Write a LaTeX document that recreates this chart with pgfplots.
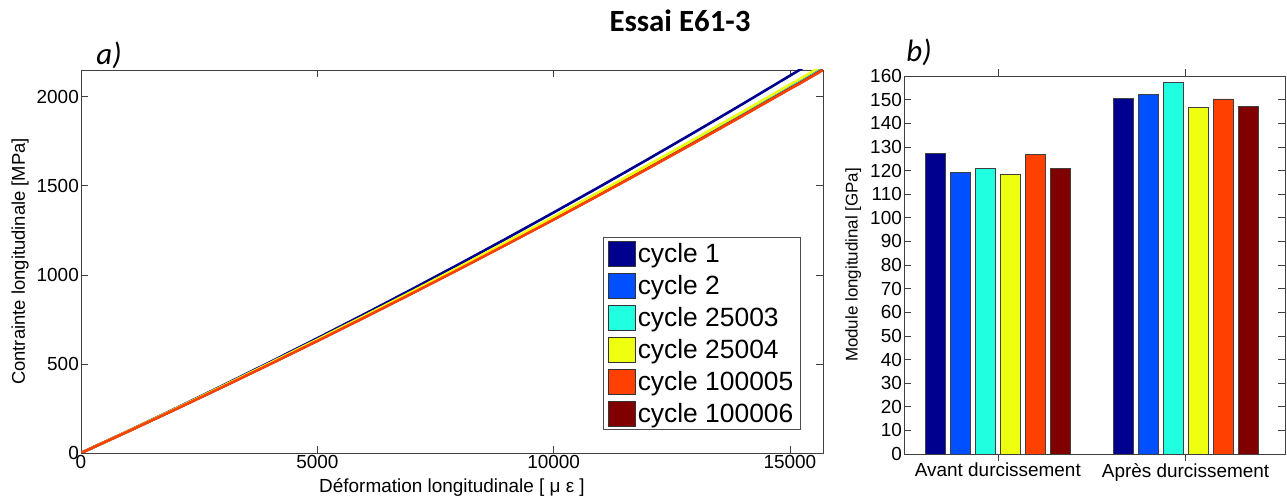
\documentclass[border=0pt]{standalone}
\usepackage{fontspec}
\setmainfont{Liberation Sans}
\newfontfamily\carlito{Carlito}
\usepackage{pgfplots}
\usepackage{pgfplotstable}
\pgfplotsset{compat=1.18}

\definecolor{c1}{RGB}{0,0,143}
\definecolor{c2}{RGB}{0,80,255}
\definecolor{c3}{RGB}{32,255,223}
\definecolor{c4}{RGB}{239,255,16}
\definecolor{c5}{RGB}{255,64,0}
\definecolor{c6}{RGB}{128,0,0}

\pgfplotstableread{
x      c1      c2      c3      c4      c5      c6
0      0       0       0       0       0       0
1000   123.8   122.6   122.0   123.1   121.6   121.8
2000   250.2   247.4   246.1   248.3   245.4   245.7
3000   379.0   374.2   372.3   375.7   371.2   371.6
4000   510.2   503.1   500.6   505.1   499.1   499.6
5000   644.0   634.1   631.0   636.7   629.1   629.7
6000   780.2   767.2   763.4   770.2   761.1   761.9
7000   919.0   902.5   898.0   906.0   895.3   896.2
8000   1060.2  1039.9  1034.7  1044.0  1031.6  1032.6
9000   1203.8  1179.3  1173.4  1184.0  1169.9  1171.1
10000  1350.0  1320.5  1313.9  1325.7  1310.0  1311.3
11000  1498.6  1464.4  1457.2  1470.2  1452.8  1454.3
12000  1649.8  1610.2  1602.2  1616.6  1597.4  1599.0
13000  1803.4  1758.1  1749.3  1765.0  1744.1  1745.8
14000  1959.4  1908.0  1898.5  1915.5  1892.8  1894.7
15000  2118.0  2060.1  2049.8  2068.2  2043.7  2045.7
15200  2150.0  2089.5  2079.2  2097.8  2072.9  2075.0
15700  2236.0  2167.2  2156.5  2175.8  2150.0  2152.2
}\curves

\pgfplotsset{
  mat/.style={
    scale only axis,
    axis line style={black!75, line width=0.8bp},
    tick style={black!75, line width=0.6bp},
    tick align=inside,
    major tick length=7bp,
    tick label style={font=\fontsize{19}{22}\selectfont, inner sep=2bp},
    /pgf/number format/assume math mode=true,
    /pgf/number format/1000 sep={},
    scaled ticks=false,
  }
}

\begin{document}
\begin{tikzpicture}
\useasboundingbox (0,0) rectangle (1287bp,499bp);

% ---------- a) ----------
\begin{axis}[mat,
  at={(81bp,46bp)}, anchor=south west,
  width=742bp, height=383bp,
  xmin=0, xmax=15700, ymin=0, ymax=2150,
  xtick={0,5000,10000,15000},
  ytick={0,500,1000,1500,2000},
  xlabel={Déformation longitudinale [ μ ε ]},
  ylabel={Contrainte longitudinale [MPa]},
  every axis x label/.style={at={(axis description cs:0.5,-0.089)}, anchor=center, font=\fontsize{19}{22}\selectfont},
  every axis y label/.style={at={(axis description cs:-0.082,0.5)}, rotate=90, anchor=center, font=\fontsize{18.5}{22}\selectfont},
  legend cell align=left,
  legend image code/.code={\draw[#1, draw=black!80, line width=0.6bp] (0bp,-12.5bp) rectangle (27bp,12.5bp);},
  legend style={at={(rel axis cs:0.97,0.06)}, anchor=south east,
    draw=black!70, line width=0.8bp,
    font=\fontsize{26.5}{30}\selectfont,
    inner xsep=5bp, inner ysep=3bp, row sep=6.5bp,
    nodes={inner xsep=2bp, inner ysep=2bp}},
]
\addplot[c1, line width=2.6bp, forget plot] table[x=x, y=c1] {\curves};
\addplot[c2, line width=2.6bp, forget plot] table[x=x, y=c2] {\curves};
\addplot[c3, line width=2.6bp, forget plot] table[x=x, y=c3] {\curves};
\addplot[c6, line width=2.6bp, forget plot] table[x=x, y=c6] {\curves};
\addplot[c4, line width=2.6bp, forget plot] table[x=x, y=c4] {\curves};
\addplot[c5, line width=2.6bp, forget plot] table[x=x, y=c5] {\curves};
\addlegendimage{fill=c1}\addlegendentry{cycle 1}
\addlegendimage{fill=c2}\addlegendentry{cycle 2}
\addlegendimage{fill=c3}\addlegendentry{cycle 25003}
\addlegendimage{fill=c4}\addlegendentry{cycle 25004}
\addlegendimage{fill=c5}\addlegendentry{cycle 100005}
\addlegendimage{fill=c6}\addlegendentry{cycle 100006}
\end{axis}

% ---------- b) ----------
\begin{axis}[mat,
  at={(904bp,45bp)}, anchor=south west,
  width=381bp, height=378bp,
  xmin=0.5, xmax=2.53, ymin=0, ymax=160,
  ybar=5bp, bar width=20bp,
  xtick={1,2},
  xticklabels={Avant durcissement, Après durcissement},
  ytick={0,10,...,160},
  ylabel={Module longitudinal [GPa]},
  every axis y label/.style={at={(axis description cs:-0.133,0.5)}, rotate=90, anchor=center, font=\fontsize{17}{20}\selectfont},
]
\addplot[fill=c1, draw=black!75, line width=0.6bp] coordinates {(1,127.2) (2,150.4)};
\addplot[fill=c2, draw=black!75, line width=0.6bp] coordinates {(1,119.2) (2,152.3)};
\addplot[fill=c3, draw=black!75, line width=0.6bp] coordinates {(1,121.0) (2,157.3)};
\addplot[fill=c4, draw=black!75, line width=0.6bp] coordinates {(1,118.4) (2,146.6)};
\addplot[fill=c5, draw=black!75, line width=0.6bp] coordinates {(1,126.9) (2,150.3)};
\addplot[fill=c6, draw=black!75, line width=0.6bp] coordinates {(1,121.0) (2,147.3)};
\end{axis}

\node[font=\carlito\bfseries\fontsize{31}{36}\selectfont] at (680bp,478bp) {Essai E61-3};
\node[font=\carlito\itshape\fontsize{31}{36}\selectfont] at (109bp,444bp) {a)};
\node[font=\carlito\itshape\fontsize{31}{36}\selectfont] at (919bp,447bp) {b)};
\end{tikzpicture}
\end{document}
